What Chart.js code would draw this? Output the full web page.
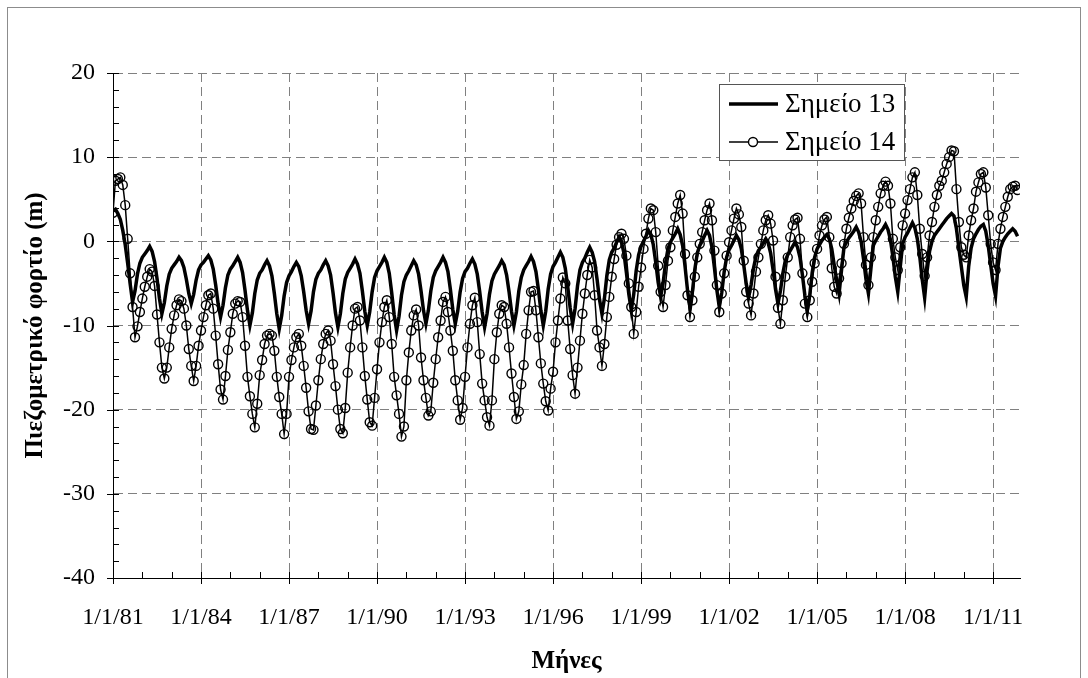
<!DOCTYPE html>
<html>
<head>
<meta charset="utf-8">
<title>Πιεζομετρικό φορτίο</title>
<script src="https://cdn.jsdelivr.net/npm/chart.js@4.4.0/dist/chart.umd.min.js"></script>
<style>
    html, body { margin: 0; padding: 0; background: #fff; }
    #wrap { position: relative; width: 1088px; height: 678px; }
</style>
</head>
<body>
<div id="wrap"><canvas id="piezo-chart" width="1088" height="678"></canvas></div>
<script>
"use strict";

// Monthly series, January 1981 onwards (one row per year)
var startYear = 1981;

var seriesLabels = ["Σημείο 13", "Σημείο 14"];

var point13 = [
    3.6, 3.8, 3.3, 2.6, 1.3, -0.4, -2.6, -5.0, -7.2, -5.9, -3.9, -2.6,
    -1.9, -1.5, -1.1, -0.6, -1.2, -2.4, -4.4, -6.8, -8.6, -7.3, -5.3, -3.9,
    -3.2, -2.8, -2.4, -1.9, -2.3, -3.1, -4.5, -6.2, -7.4, -6.3, -4.6, -3.4,
    -2.8, -2.5, -2.1, -1.7, -2.2, -3.3, -5.2, -7.4, -9.0, -7.6, -5.5, -4.0,
    -3.3, -2.9, -2.4, -1.9, -2.5, -3.7, -5.8, -8.2, -10.0, -8.5, -6.2, -4.6,
    -3.8, -3.4, -2.8, -2.3, -2.9, -4.1, -6.2, -8.6, -10.4, -8.8, -6.5, -4.9,
    -4.1, -3.6, -3.0, -2.5, -3.0, -4.1, -6.0, -8.2, -9.8, -8.3, -6.0, -4.5,
    -3.8, -3.4, -2.8, -2.3, -2.9, -4.0, -6.1, -8.5, -10.2, -8.6, -6.2, -4.5,
    -3.7, -3.2, -2.7, -2.1, -2.7, -3.8, -5.9, -8.3, -10.0, -8.4, -6.0, -4.3,
    -3.5, -3.0, -2.5, -1.9, -2.5, -3.8, -6.1, -8.7, -10.6, -8.9, -6.4, -4.8,
    -4.0, -3.5, -2.9, -2.3, -2.8, -3.9, -5.9, -8.2, -9.8, -8.2, -5.9, -4.3,
    -3.5, -3.0, -2.5, -1.9, -2.5, -3.6, -5.7, -8.1, -9.8, -8.3, -6.0, -4.4,
    -3.6, -3.2, -2.6, -2.1, -2.7, -3.9, -6.0, -8.4, -10.2, -8.6, -6.3, -4.7,
    -3.9, -3.4, -2.9, -2.3, -2.8, -4.0, -6.0, -8.3, -10.0, -8.4, -5.9, -4.3,
    -3.4, -2.9, -2.4, -1.8, -2.4, -3.6, -5.7, -8.2, -10.0, -8.3, -5.7, -3.9,
    -3.0, -2.5, -1.9, -1.3, -1.9, -3.2, -5.4, -7.9, -9.8, -8.0, -5.3, -3.4,
    -2.5, -2.0, -1.3, -0.7, -1.3, -2.4, -4.5, -6.9, -8.6, -6.8, -4.1, -2.2,
    -1.3, -0.8, -0.1, 0.5, -0.1, -1.4, -3.7, -6.3, -8.2, -6.3, -3.5, -1.6,
    -0.6, 0.0, 0.6, 1.3, 0.8, -0.4, -2.5, -4.9, -6.6, -5.0, -2.6, -0.9,
    -0.1, 0.4, 0.9, 1.5, 0.8, -0.5, -3.0, -5.8, -7.8, -6.0, -3.3, -1.4,
    -0.5, 0.0, 0.7, 1.3, 0.7, -0.7, -3.1, -5.8, -7.8, -6.1, -3.6, -1.9,
    -1.0, -0.5, 0.1, 0.7, 0.2, -0.9, -2.8, -5.0, -6.6, -5.2, -3.2, -1.8,
    -1.1, -0.7, -0.2, 0.3, -0.2, -1.4, -3.4, -5.7, -7.4, -5.9, -3.8, -2.3,
    -1.6, -1.1, -0.6, -0.1, -0.7, -1.9, -4.0, -6.4, -8.2, -6.4, -3.7, -1.9,
    -0.9, -0.4, 0.1, 0.5, 0.8, 0.3, -0.9, -2.8, -4.6, -6.2, -3.4, -0.7,
    -0.1, 0.4, 0.8, 1.2, 1.7, 1.1, 0.0, -2.1, -4.5, -6.2, -3.3, -0.5,
    0.1, 0.6, 1.1, 1.5, 2.0, 1.4, 0.2, -1.8, -4.2, -6.0, -3.1, -0.3,
    0.5, 1.0, 1.6, 2.2, 1.6, 0.3, -1.8, -4.5, -6.7, -3.5, -1.2, 0.0,
    0.7, 1.1, 1.5, 1.9, 2.3, 2.7, 3.0, 3.3, 3.0, 1.5, -0.8, -3.0,
    -5.2, -6.6, -3.0, -0.8, 0.3, 0.9, 1.4, 1.8, 2.0, 1.2, -0.5, -2.8,
    -5.0, -6.5, -3.0, -0.8, 0.0, 0.5, 0.9, 1.2, 1.5, 1.2, 0.6
];

var point14 = [
    3.4, 7.2, 7.4, 7.6, 6.7, 4.3, 0.3, -3.8, -7.8, -11.4, -10.1, -8.4,
    -6.8, -5.4, -4.2, -3.3, -3.6, -5.3, -8.7, -12.0, -15.0, -16.3, -15.0, -12.6,
    -10.4, -8.8, -7.6, -6.9, -7.1, -8.0, -10.0, -12.8, -14.8, -16.6, -14.8, -12.4,
    -10.6, -9.0, -7.6, -6.4, -6.2, -8.0, -11.2, -14.6, -17.6, -18.8, -16.0, -12.9,
    -10.8, -8.6, -7.4, -7.1, -7.2, -9.0, -12.4, -16.1, -18.4, -20.5, -22.1, -19.3,
    -15.9, -14.1, -12.2, -11.2, -11.0, -11.2, -13.0, -16.1, -18.5, -20.5, -22.9, -20.5,
    -16.1, -14.1, -12.6, -11.4, -11.0, -12.4, -14.8, -17.4, -20.2, -22.3, -22.4, -19.5,
    -16.5, -14.0, -12.2, -11.0, -10.6, -11.8, -14.6, -17.2, -20.0, -22.3, -22.8, -19.8,
    -15.6, -12.6, -10.0, -8.0, -7.8, -9.4, -12.6, -16.0, -18.8, -21.5, -21.9, -18.6,
    -15.2, -12.0, -9.6, -7.8, -7.0, -9.0, -12.2, -16.1, -18.3, -20.5, -23.2, -22.0,
    -16.5, -13.2, -10.6, -8.8, -8.1, -10.0, -13.8, -16.5, -18.6, -20.7, -20.2, -16.8,
    -14.0, -11.4, -9.4, -7.2, -6.6, -8.4, -10.6, -13.0, -16.5, -18.9, -21.2, -19.8,
    -16.1, -12.6, -9.8, -7.6, -6.7, -9.6, -13.4, -16.9, -18.9, -20.9, -21.9, -18.9,
    -14.0, -10.8, -8.6, -7.6, -7.8, -9.8, -12.6, -15.7, -18.5, -21.1, -20.2, -17.0,
    -14.7, -11.0, -8.2, -6.0, -5.9, -8.2, -11.4, -14.5, -16.9, -19.0, -20.1, -17.5,
    -15.5, -12.0, -9.4, -6.8, -4.3, -5.0, -9.4, -12.8, -15.9, -18.1, -15.0, -11.8,
    -8.6, -6.2, -4.0, -2.2, -3.1, -6.4, -10.6, -12.6, -14.8, -12.2, -9.0, -6.6,
    -4.2, -2.1, -0.4, 0.5, 0.9, 0.3, -1.7, -5.0, -7.8, -11.0, -8.4, -5.4,
    -3.1, -0.9, 0.9, 2.7, 3.9, 3.7, 1.1, -2.9, -6.0, -7.8, -5.2, -2.3,
    -0.7, 1.3, 2.9, 4.5, 5.5, 3.3, -1.5, -6.4, -9.0, -7.0, -4.2, -1.9,
    -0.3, 1.1, 2.5, 3.7, 4.5, 2.5, -1.1, -5.2, -8.4, -6.2, -3.8, -1.7,
    -0.1, 1.3, 2.7, 3.9, 3.2, 1.7, -2.3, -6.0, -7.4, -8.8, -6.2, -3.6,
    -1.9, -0.3, 1.3, 2.5, 3.1, 2.1, 0.1, -4.2, -7.9, -9.8, -7.0, -4.2,
    -1.9, 0.5, 1.9, 2.6, 2.8, 0.3, -3.8, -7.4, -9.0, -7.0, -4.8, -2.6,
    -0.9, 0.7, 1.9, 2.6, 2.9, 0.5, -3.2, -5.4, -6.2, -4.4, -2.6, -0.3,
    1.5, 2.8, 3.9, 4.8, 5.4, 5.7, 4.5, 0.5, -2.8, -5.2, -1.9, 0.5,
    2.5, 4.1, 5.7, 6.6, 7.1, 6.6, 4.5, 0.3, -1.9, -3.4, -0.7, 1.9,
    3.3, 4.9, 6.2, 7.6, 8.2, 5.5, 1.5, -1.5, -4.1, -1.9, 0.7, 2.3,
    4.1, 5.5, 6.6, 7.2, 8.2, 9.2, 10.0, 10.8, 10.7, 6.2, 2.3, -0.7,
    -1.6, -1.9, 0.7, 2.5, 3.9, 5.9, 7.0, 8.0, 8.2, 6.4, 3.1, -0.3,
    -2.5, -3.4, -0.3, 1.5, 2.9, 4.1, 5.3, 6.2, 6.5, 6.6, 6.1
];

// Axis ticks
var tickLabels = ["1/1/81", "1/1/84", "1/1/87", "1/1/90", "1/1/93", "1/1/96",
                  "1/1/99", "1/1/02", "1/1/05", "1/1/08", "1/1/11"];
var tickYears = [1981, 1984, 1987, 1990, 1993, 1996, 1999, 2002, 2005, 2008, 2011];
var yTicks = [-40, -30, -20, -10, 0, 10, 20];

var serif = "'Liberation Serif', 'Times New Roman', serif";
var monthsTotal = 371;

var tickMonths = tickYears.map(function (y) { return (y - startYear) * 12; });

function toPoints(values) {
    return values.map(function (v, i) { return { x: i, y: v }; });
}

// White page with a thin frame
var framePlugin = {
    id: 'frame',
    beforeDraw: function (chart) {
        var ctx = chart.ctx;
        ctx.save();
        ctx.fillStyle = '#fff';
        ctx.fillRect(0, 0, chart.width, chart.height);
        ctx.strokeStyle = '#8c8c8c';
        ctx.lineWidth = 1;
        ctx.strokeRect(7.5, 7.5, 1073, 690);
        ctx.restore();
    }
};

// Small tick marks: yearly on x, every 2 m on y
var tickMarksPlugin = {
    id: 'tickMarks',
    afterDraw: function (chart) {
        var ctx = chart.ctx, area = chart.chartArea;
        var xs = chart.scales.x, ys = chart.scales.y;
        ctx.save();
        ctx.strokeStyle = '#000';
        ctx.lineWidth = 1;
        ctx.beginPath();
        for (var v = ys.min; v <= ys.max; v += 2) {
            var py = Math.round(ys.getPixelForValue(v)) + 0.5;
            var major = v % 10 === 0;
            ctx.moveTo(area.left - (major ? 6 : 0), py);
            ctx.lineTo(area.left + 6, py);
        }
        for (var m = 0; m <= monthsTotal; m += 12) {
            var px = Math.round(xs.getPixelForValue(m)) + 0.5;
            var big = m % 36 === 0;
            ctx.moveTo(px, area.bottom + (big ? 6 : 0));
            ctx.lineTo(px, area.bottom - 6);
        }
        ctx.stroke();
        ctx.restore();
    }
};

// Boxed legend inside the plot, top right
var boxLegendPlugin = {
    id: 'boxLegend',
    afterDraw: function (chart) {
        var ctx = chart.ctx;
        var left = 719, top = 84, width = 185, height = 76;
        ctx.save();
        ctx.fillStyle = '#fff';
        ctx.fillRect(left, top, width, height);
        ctx.strokeStyle = '#555';
        ctx.lineWidth = 1;
        ctx.strokeRect(left + 0.5, top + 0.5, width, height);
        ctx.font = '27px ' + serif;
        ctx.fillStyle = '#000';
        ctx.textBaseline = 'middle';
        chart.data.datasets.forEach(function (ds, i) {
            var y = top + 20 + i * 38;
            ctx.strokeStyle = '#000';
            ctx.lineWidth = ds.borderWidth;
            ctx.beginPath();
            ctx.moveTo(left + 10, y);
            ctx.lineTo(left + 59, y);
            ctx.stroke();
            if (ds.pointRadius > 0) {
                ctx.lineWidth = ds.pointBorderWidth;
                ctx.fillStyle = '#fff';
                ctx.beginPath();
                ctx.arc(left + 34, y, ds.pointRadius, 0, Math.PI * 2);
                ctx.fill();
                ctx.stroke();
                ctx.fillStyle = '#000';
            }
            ctx.fillText(ds.label, left + 66, y + 1);
        });
        ctx.restore();
    }
};

var ctx1 = document.getElementById('piezo-chart').getContext('2d');
var myChart1 = new Chart(ctx1, {
    type: 'line',
    data: {
        datasets: [{
                label: seriesLabels[0],
                data: toPoints(point13),
                borderColor: '#000',
                borderWidth: 3.5,
                pointRadius: 0,
                tension: 0
            },
            {
                label: seriesLabels[1],
                data: toPoints(point14),
                borderColor: '#000',
                borderWidth: 1.5,
                pointRadius: 4.5,
                pointBorderWidth: 1.4,
                pointBorderColor: '#000',
                pointBackgroundColor: 'rgba(255,255,255,0)',
                tension: 0
            }
        ]
    },
    options: {
        responsive: false,
        animation: false,
        events: [],
        layout: { padding: { left: 0, right: 68, top: 73, bottom: 0 } },
        plugins: {
            legend: { display: false },
            tooltip: { enabled: false }
        },
        scales: {
            x: {
                type: 'linear',
                min: 0,
                max: monthsTotal,
                afterFit: function (scale) { scale.height = 100; },
                afterBuildTicks: function (scale) {
                    scale.ticks = tickMonths.map(function (m) { return { value: m }; });
                },
                ticks: {
                    autoSkip: false,
                    maxRotation: 0,
                    padding: 25,
                    color: '#000',
                    font: { family: serif, size: 24 },
                    callback: function (value, index) { return tickLabels[index]; }
                },
                grid: {
                    drawTicks: false,
                    color: function (c) { return c.tick && c.tick.value === 0 ? 'rgba(0,0,0,0)' : '#808080'; }
                },
                border: { color: '#000', width: 1, dash: [9, 5] },
                title: {
                    display: true,
                    text: 'Μήνες',
                    color: '#000',
                    font: { family: serif, size: 25, weight: 'bold' },
                    padding: { top: 0, bottom: 1 }
                }
            },
            y: {
                min: yTicks[0],
                max: yTicks[yTicks.length - 1],
                afterFit: function (scale) { scale.width = 113; },
                afterBuildTicks: function (scale) {
                    scale.ticks = yTicks.map(function (v) { return { value: v }; });
                },
                ticks: {
                    padding: 18,
                    color: '#000',
                    font: { family: serif, size: 24 }
                },
                grid: {
                    drawTicks: false,
                    color: function (c) { return c.tick && c.tick.value === yTicks[0] ? 'rgba(0,0,0,0)' : '#808080'; }
                },
                border: { color: '#000', width: 1, dash: [9, 5] },
                title: {
                    display: true,
                    text: 'Πιεζομετρικό φορτίο (m)',
                    color: '#000',
                    font: { family: serif, size: 25, weight: 'bold' },
                    padding: { top: 21, bottom: 0 }
                }
            }
        }
    },
    plugins: [framePlugin, tickMarksPlugin, boxLegendPlugin]
});
</script>
</body>
</html>
